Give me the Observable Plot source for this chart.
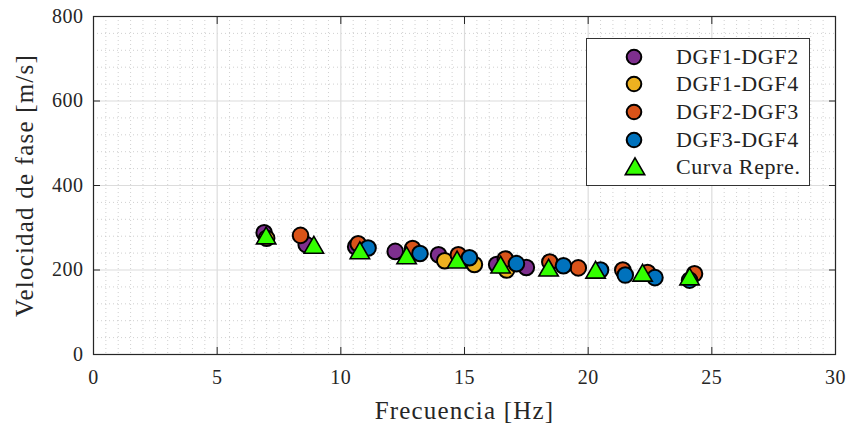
<!DOCTYPE html>
<html>
<head>
<meta charset="utf-8">
<script src="https://cdn.jsdelivr.net/npm/d3@7"></script>
<script src="https://cdn.jsdelivr.net/npm/@observablehq/plot@0.6"></script>
<style>
  body { margin: 0; background: #fff; }
  #wrap { position: relative; width: 847px; height: 425px; }
  #wrap svg text { font-family: "Liberation Serif", "DejaVu Serif", serif !important; }
  #legend { position: absolute; left: 586px; top: 38px; width: 224px; height: 148px;
    border: 1.2px solid #333; background: #fff; box-sizing: border-box;
    font-family: "Liberation Serif", "DejaVu Serif", serif; font-size: 22px; color: #222; }
  .row { position: absolute; left: 0; height: 28px; width: 100%; }
  .row svg { position: absolute; left: 36px; top: 0; }
  .row span { position: absolute; left: 89px; top: 1px; letter-spacing: 0.6px; white-space: nowrap; }
</style>
</head>
<body>
<div id="wrap"></div>
<script>
const xTicks = [0, 5, 10, 15, 20, 25, 30];
const yTicks = [0, 200, 400, 600, 800];
const seriesNames = ["DGF1-DGF2", "DGF1-DGF4", "DGF2-DGF3", "DGF3-DGF4", "Curva Repre."];
const seriesColors = ["#7E2F8E", "#EDB120", "#D95319", "#0072BD", "#33FF00"];

const f12 = [6.9, 8.6, 10.6, 12.2, 13.95, 15.0, 16.3, 17.5];
const v12 = [288, 260, 255, 244, 236, 225, 213, 206];
const f14 = [7.0, 10.9, 14.2, 15.4, 16.7];
const v14 = [275, 250, 222, 213, 200];
const f23 = [8.37, 10.7, 12.9, 14.75, 16.65, 18.45, 19.6, 21.4, 22.4, 24.3];
const v23 = [282, 262, 251, 236, 226, 219, 205, 200, 194, 191];
const f34 = [11.1, 13.2, 15.2, 17.1, 19.0, 20.5, 21.5, 22.7, 24.1];
const v34 = [252, 239, 229, 215, 210, 200, 188, 182, 176];
const fCurve = [6.98, 8.91, 10.77, 12.66, 14.7, 16.46, 18.4, 20.3, 22.2, 24.1];
const vCurve = [275, 253, 240, 228, 218, 206, 199, 194, 187, 178];

const mk = (fs, vs) => fs.map((f, i) => ({f, v: vs[i]}));
const circleSeries = [[f12, v12, 0], [f14, v14, 1], [f23, v23, 2], [f34, v34, 3]];

const xMinor = d3.range(0, 30.01, 0.5).filter(d => d % 5 !== 0);
const yMinor = d3.range(0, 800.1, 40).filter(d => d % 200 !== 0);

const plot = Plot.plot({
  width: 847,
  height: 425,
  marginLeft: 93,
  marginRight: 12,
  marginTop: 16,
  marginBottom: 71,
  style: { fontFamily: "'Liberation Serif', serif", fontSize: "20px", color: "#262626", background: "#fff" },
  x: { domain: [0, 30] },
  y: { domain: [0, 800] },
  marks: [
    Plot.ruleX(xMinor, { stroke: "#c4c4c4", strokeWidth: 0.8, strokeDasharray: "1,3" }),
    Plot.ruleY(yMinor, { stroke: "#c4c4c4", strokeWidth: 0.8, strokeDasharray: "1,3" }),
    Plot.ruleX(xTicks, { stroke: "#dcdcdc", strokeWidth: 1.2 }),
    Plot.ruleY(yTicks, { stroke: "#dcdcdc", strokeWidth: 1.2 }),
    Plot.axisX({ ticks: xTicks, tickSize: -7, tickPadding: 22, tickFormat: d => d, label: "Frecuencia [Hz]", labelAnchor: "center", labelOffset: 64, labelArrow: "none" }),
    Plot.axisX({ anchor: "top", ticks: xTicks, tickSize: -7, tickFormat: () => "", label: null }),
    Plot.axisY({ ticks: yTicks, tickSize: -7, tickPadding: 17, tickFormat: d => d, label: "Velocidad de fase [m/s]", labelAnchor: "center", labelOffset: 78, labelArrow: "none" }),
    Plot.axisY({ anchor: "right", ticks: yTicks, tickSize: -7, tickFormat: () => "", label: null }),
    Plot.frame({ stroke: "#262626", strokeWidth: 1.2 }),
    ...circleSeries.map(([fs, vs, k]) => Plot.dot(mk(fs, vs), { x: "f", y: "v", r: 7.8, fill: seriesColors[k], stroke: "#000", strokeWidth: 2 })),
    Plot.dot(mk(fCurve, vCurve), { x: "f", y: "v", symbol: "triangle", r: 7.2, fill: seriesColors[4], stroke: "#000", strokeWidth: 1.6 })
  ]
});

const wrap = document.getElementById("wrap");
wrap.appendChild(plot);
d3.select(plot).selectAll('[aria-label="x-axis label"] text, [aria-label="y-axis label"] text')
  .style("font-size", "25px").style("letter-spacing", "1.2px");
d3.select(plot).selectAll('[aria-label^="x-axis tick label"] text, [aria-label^="y-axis tick label"] text')
  .style("letter-spacing", "0.5px");

const legend = document.createElement("div");
legend.id = "legend";
const rowTops = [4, 31, 59, 87, 114];
seriesNames.forEach((name, i) => {
  const row = document.createElement("div");
  row.className = "row";
  row.style.top = rowTops[i] + "px";
  const marker = i < 4
    ? `<svg width="22" height="28"><circle cx="11" cy="14" r="7.3" fill="${seriesColors[i]}" stroke="#000" stroke-width="2"/></svg>`
    : `<svg width="24" height="28"><path transform="translate(12,16)" d="${d3.symbol(d3.symbolTriangle, Math.PI * 7.2 * 7.2)()}" fill="${seriesColors[i]}" stroke="#000" stroke-width="1.6"/></svg>`;
  row.innerHTML = marker + `<span>${name}</span>`;
  legend.appendChild(row);
});
wrap.appendChild(legend);
</script>
</body>
</html>
